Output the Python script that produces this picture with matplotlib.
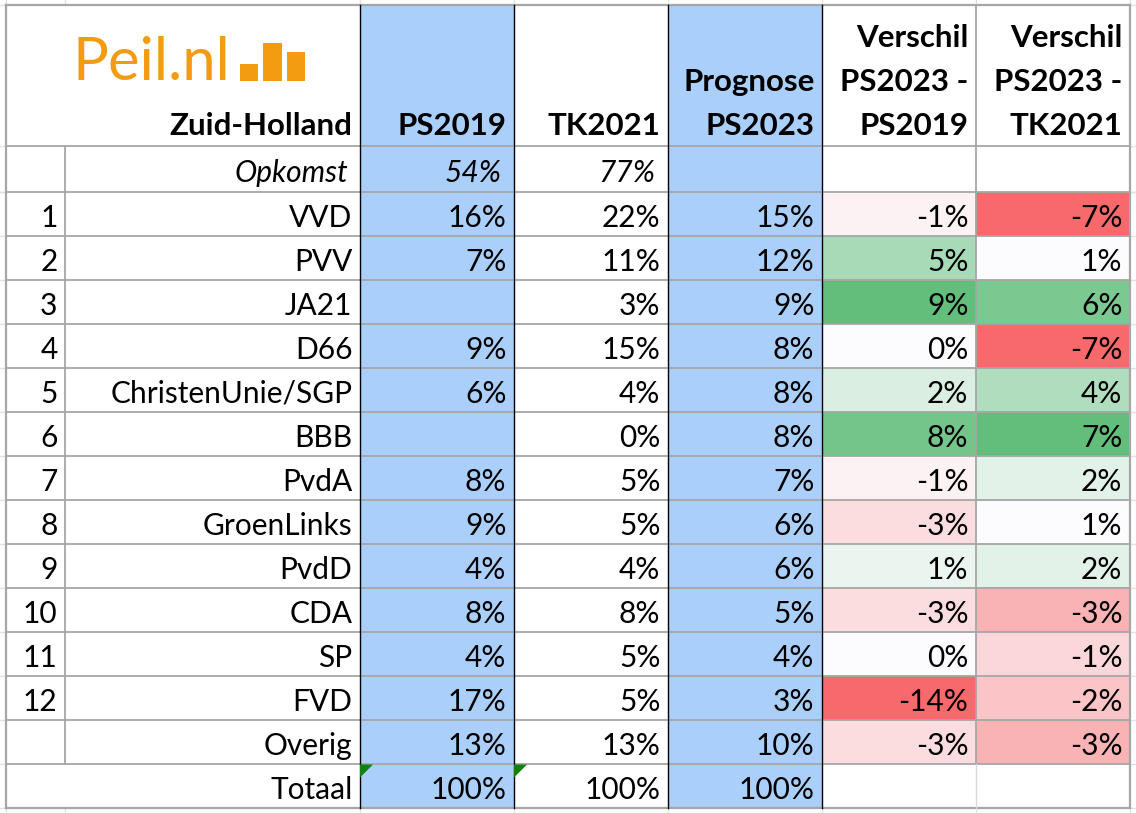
import numpy as np
import matplotlib
matplotlib.use('Agg')
import matplotlib.pyplot as plt
from matplotlib.patches import Rectangle, Polygon
from matplotlib.colors import to_rgb

# ------ DATA ------
parties = ['VVD', 'PVV', 'JA21', 'D66', 'ChristenUnie/SGP', 'BBB', 'PvdA',
           'GroenLinks', 'PvdD', 'CDA', 'SP', 'FVD', 'Overig']
ranks = ['1', '2', '3', '4', '5', '6', '7', '8', '9', '10', '11', '12', '']
ps2019 = [16, 7, None, 9, 6, None, 8, 9, 4, 8, 4, 17, 13]
tk2021 = [22, 11, 3, 15, 4, 0, 5, 5, 4, 8, 5, 5, 13]
ps2023 = [15, 12, 9, 8, 8, 8, 7, 6, 6, 5, 4, 3, 10]
diff19 = [-1, 5, 9, 0, 2, 8, -1, -3, 1, -3, 0, -14, -3]
diff21 = [-7, 1, 6, -7, 4, 7, 2, 1, 2, -3, -1, -2, -3]
opkomst = ['54%', '77%', '']
totaal = ['100%', '100%', '100%']
headers = [['PS2019'], ['TK2021'], ['Prognose', 'PS2023'],
           ['Verschil', 'PS2023 -', 'PS2019'], ['Verschil', 'PS2023 -', 'TK2021']]

# ------ LAYOUT (pixels) ------
W, H = 1136, 813
xs = [5.5, 64.5, 359.5, 513.5, 667.5, 821.5, 975.5, 1129.5]
y_top, y_head, y_opk = 5.5, 146.5, 192
rh = 44
n = len(parties)
y_rows = [y_opk + i * rh for i in range(n + 2)]  # last = bottom of Totaal
y_bot = y_rows[-1]

blue = '#aacffa'
grid = '#a6a6a6'
orange = '#f39c12'
FONT = 'Lato'
fs = 21.5
fsb = 22.5
pad = 7

plt.rcParams['font.family'] = [FONT, 'DejaVu Sans']

fig = plt.figure(figsize=(W / 100, H / 100), dpi=100)
ax = fig.add_axes([0, 0, 1, 1])
ax.set_xlim(0, W)
ax.set_ylim(H, 0)
ax.axis('off')

# faint Excel gridlines outside table
for x in xs:
    ax.plot([x, x], [0, y_top], color='#e2e2e2', lw=1)
    ax.plot([x, x], [y_bot, H], color='#e2e2e2', lw=1)
for y in [y_top, y_head, y_opk] + y_rows:
    ax.plot([0, xs[0]], [y, y], color='#e2e2e2', lw=1)
    ax.plot([xs[-1], W], [y, y], color='#e2e2e2', lw=1)

# blue columns
for c in [2, 4]:
    ax.add_patch(Rectangle((xs[c], y_top), xs[c + 1] - xs[c], y_bot - y_top,
                           facecolor=blue, edgecolor='none', zorder=0))


# Excel 3-colour scale (red - white - green, midpoint = 50th percentile)
def scale_colors(vals):
    v = np.array(vals, dtype=float)
    lo, mid, hi = v.min(), np.percentile(v, 50), v.max()
    red, white, green = (np.array(to_rgb(c)) for c in ('#f8696b', '#fcfcff', '#63be7b'))
    out = []
    for val in v:
        if val <= mid:
            t = (mid - val) / (mid - lo) if mid > lo else 0
            out.append(white + (red - white) * t)
        else:
            t = (val - mid) / (hi - mid)
            out.append(white + (green - white) * t)
    return out


for c, vals in [(5, diff19), (6, diff21)]:
    cols = scale_colors(vals)
    for i, col in enumerate(cols):
        ax.add_patch(Rectangle((xs[c], y_rows[i]), xs[c + 1] - xs[c], rh,
                               facecolor=col, edgecolor='none', zorder=0))

# grid lines
for y in [y_head, y_opk] + y_rows[1:-1]:
    ax.plot([xs[0], xs[-1]], [y, y], color=grid, lw=1.3, zorder=2)
ax.plot([xs[0], xs[-1]], [y_top, y_top], color=grid, lw=1.6, zorder=2)
ax.plot([xs[0], xs[-1]], [y_bot, y_bot], color=grid, lw=1.6, zorder=2)
ax.plot([xs[0], xs[0]], [y_top, y_bot], color=grid, lw=1.6, zorder=2)
ax.plot([xs[-1], xs[-1]], [y_top, y_bot], color=grid, lw=1.6, zorder=2)
ax.plot([xs[1], xs[1]], [y_head, y_rows[-2]], color=grid, lw=1.3, zorder=2)
ax.plot([xs[6], xs[6]], [y_top, y_rows[-2]], color=grid, lw=1.3, zorder=2)
ax.plot([xs[6], xs[6]], [y_rows[-2], y_bot], color='#d9d9d9', lw=1, zorder=2)
for c in [2, 3, 4, 5]:
    ax.plot([xs[c], xs[c]], [y_top, y_bot], color='black', lw=1, zorder=3)

# logo
ax.text(72, 80, 'Peil.nl', color=orange, fontsize=43, fontweight='normal',
        ha='left', va='baseline')
for x0, x1, top in [(239.5, 258, 64), (263, 281.5, 43.5), (286.5, 305, 52)]:
    ax.add_patch(Rectangle((x0, top), x1 - x0, 81.5 - top, facecolor=orange,
                           edgecolor='none'))

# header
ax.text(xs[2] - pad, 135, 'Zuid-Holland', fontsize=fsb, fontweight='bold',
        ha='right', va='baseline')
for c, lines in enumerate(headers):
    for k, line in enumerate(reversed(lines)):
        ax.text(xs[c + 3] - pad, 135 - k * rh, line, fontsize=fsb,
                fontweight='bold', ha='right', va='baseline')

# opkomst row
ax.text(xs[2] - pad - 4, y_opk - 10, 'Opkomst', fontsize=fs, style='italic',
        ha='right', va='baseline')
for c, t in enumerate(opkomst):
    ax.text(xs[c + 3] - pad - 5, y_opk - 10, t, fontsize=fs, style='italic',
            ha='right', va='baseline')


def pct(v):
    return '' if v is None else f'{v}%'


# data rows
for i in range(n):
    yb = y_rows[i + 1] - 9.5
    ax.text(xs[1] - pad, yb, ranks[i], fontsize=fs, ha='right', va='baseline')
    ax.text(xs[2] - pad, yb, parties[i], fontsize=fs, ha='right', va='baseline')
    for c, series in enumerate([ps2019, tk2021, ps2023, diff19, diff21]):
        ax.text(xs[c + 3] - pad, yb, pct(series[i]), fontsize=fs,
                ha='right', va='baseline', zorder=4)

# totaal row
yb = y_bot - 9.5
ax.text(xs[2] - pad, yb, 'Totaal', fontsize=fs, ha='right', va='baseline')
for c, t in enumerate(totaal):
    ax.text(xs[c + 3] - pad, yb, t, fontsize=fs, ha='right', va='baseline')
for c in [2, 3]:
    x0, y0 = xs[c] + 0.5, y_rows[-2] + 0.5
    ax.add_patch(Polygon([(x0, y0), (x0 + 13, y0), (x0, y0 + 13)],
                         closed=True, facecolor='#128012', edgecolor='none',
                         zorder=4))

fig.savefig('out.png', dpi=100)
